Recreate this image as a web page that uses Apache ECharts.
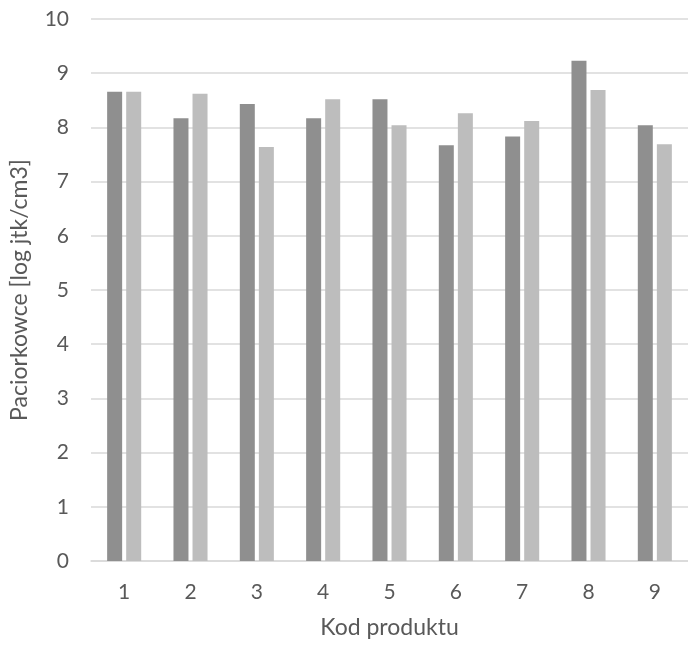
<!DOCTYPE html>
<html>
<head>
<meta charset="utf-8">
<script src="https://cdn.jsdelivr.net/npm/echarts@6/dist/echarts.min.js"></script>
<style>html,body{margin:0;padding:0;background:#fff}#c{width:688px;height:646px}</style>
</head>
<body>
<div id="c"></div>
<script>
const categories = ['1','2','3','4','5','6','7','8','9'];
const seriesA = [8.66, 8.17, 8.43, 8.17, 8.52, 7.67, 7.83, 9.23, 8.04];
const seriesB = [8.66, 8.62, 7.64, 8.52, 8.04, 8.26, 8.12, 8.69, 7.69];
const yTicks = [0,1,2,3,4,5,6,7,8,9,10];
const FONT = 'Lato, "Noto Sans", sans-serif';
const chart = echarts.init(document.getElementById('c'), null, {renderer:'canvas'});
chart.setOption({
  animation: false,
  grid: {left: 90, right: 0, top: 19, bottom: 85, containLabel: false},
  xAxis: {
    type: 'category', data: categories,
    name: 'Kod produktu', nameLocation: 'middle', nameGap: 55,
    nameTextStyle: {color: '#595959', fontSize: 23, fontFamily: FONT},
    axisLine: {show: true, lineStyle: {color: '#d9d9d9', width: 1.5}},
    axisTick: {show: false},
    axisLabel: {color: '#595959', fontSize: 21, fontFamily: FONT, margin: 21}
  },
  yAxis: {
    type: 'value', min: yTicks[0], max: yTicks[yTicks.length-1], interval: 1,
    name: 'Paciorkowce [log jtk/cm3]', nameLocation: 'middle', nameGap: 60,
    nameTextStyle: {color: '#595959', fontSize: 23, fontFamily: FONT},
    axisLine: {show: false}, axisTick: {show: false},
    axisLabel: {color: '#595959', fontSize: 21, fontFamily: FONT, margin: 22},
    splitLine: {lineStyle: {color: '#d9d9d9', width: 1.5}}
  },
  series: [
    {type: 'bar', data: seriesA, barWidth: 15, barGap: '27%', itemStyle: {color: '#8f8f8f'}},
    {type: 'bar', data: seriesB, barWidth: 15, itemStyle: {color: '#bdbdbd'}}
  ]
});
</script>
</body>
</html>
